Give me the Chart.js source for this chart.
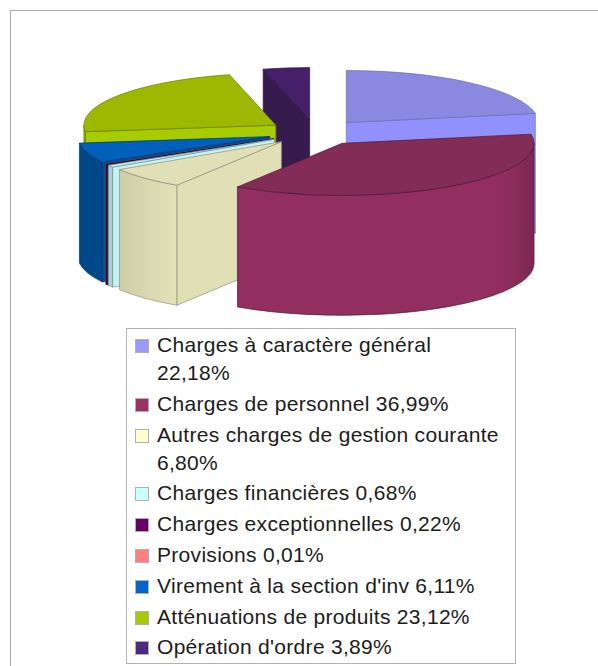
<!DOCTYPE html>
<html>
<head>
<meta charset="utf-8">
<title>Charges</title>
<script src="https://cdn.jsdelivr.net/npm/chart.js@4"></script>
<style>
    html, body { margin: 0; padding: 0; background: #fff; overflow: hidden; }
    #frame { position: absolute; left: 10px; top: 10px; width: 700px; height: 800px; border-left: 1px solid #a8a8a8; border-top: 1px solid #a8a8a8; }
    #pie { position: absolute; left: 0; top: 0; }
    #legend { position: absolute; left: 126px; top: 328px; width: 388px; height: 334px; border: 1px solid #b3b3b3; background: #fff;
        box-sizing: content-box; font-family: "Liberation Sans", sans-serif; font-size: 21px; color: #1c1c1c; padding-top: 0; }
    #legend .row { position: relative; padding-left: 30px; line-height: 28px; margin-bottom: 2.8px; white-space: nowrap; letter-spacing: 0.3px; }
    #legend .row:first-child { margin-top: 2px; }
    #legend .box { position: absolute; left: 8px; top: 8px; width: 12px; height: 12px; border: 1px solid #b0b0b0; }
</style>
</head>
<body>
<div id="frame"></div>
<canvas id="pie" width="598" height="666"></canvas>
<div id="legend"></div>
<script>
const categories = ["Charges à caractère général", "Charges de personnel", "Autres charges de gestion courante",
    "Charges financières", "Charges exceptionnelles", "Provisions", "Virement à la section d'inv",
    "Atténuations de produits", "Opération d'ordre"];
const values = [22.18, 36.99, 6.80, 0.68, 0.22, 0.01, 6.11, 23.12, 3.89];
const twoLineRows = [0, 2];

const legendColors = ["#9999ff", "#993366", "#ffffcc", "#ccffff", "#660066", "#ff8080", "#0066cc", "#a9c800", "#4b2a7f"];
const topColors = ["#8a88e0", "#832c57", "#e0dfb5", "#c4f2f2", "#4a0a4a", "#e07070", "#0060bb", "#9cb800", "#451f68"];
const faceColors = ["#9090fe", "#8f2d5e", "#e0dfb5", "#c4f2f2", "#3a083a", "#d06060", "#004f9c", "#a8cc00", "#361c4e"];
const wallColors = ["#9090fe", "#922e60", "#e2e1b7", "#b8e6e6", "#2e0a3a", "#d06060", "#005099", "#a8cc00", "#361c4e"];
const edgeColors = ["#6f6fa8", "#4c1c34", "#8f8f80", "#7a9a9a", "#220522", "#904040", "#003a70", "#6a7d00", "#2a1540"];

const pieRadius = 192;
const squash = 52 / 192;
const depth = 120;
const explode = 48;

// wall brightness across the pie, left edge to right edge
const wallShade = [[-1, 0.88], [-0.85, 0.91], [-0.72, 0.95], [-0.55, 1], [0.8, 1], [0.9, 0.95], [1, 0.85]];

const shadeColor = (hex, f) => {
    const n = parseInt(hex.slice(1), 16);
    const r = Math.round((n >> 16 & 255) * f);
    const g = Math.round((n >> 8 & 255) * f);
    const b = Math.round((n & 255) * f);
    return `rgb(${r},${g},${b})`;
};

const drawSlice = (ctx, arc, i) => {
    const { x, y, startAngle, endAngle, outerRadius } = arc.getProps(["x", "y", "startAngle", "endAngle", "outerRadius"]);
    const mid = (startAngle + endAngle) / 2;
    const cx = x + Math.cos(mid) * explode;
    const cy = y + Math.sin(mid) * explode * squash;
    const ry = outerRadius * squash;

    // radial cut faces, only the one turned to the viewer
    const faces = [];
    if (Math.cos(startAngle) < 0) faces.push(startAngle);
    if (Math.cos(endAngle) > 0) faces.push(endAngle);
    faces.forEach(a => {
        const ex = cx + Math.cos(a) * outerRadius;
        const ey = cy + Math.sin(a) * ry;
        ctx.beginPath();
        ctx.moveTo(cx, cy);
        ctx.lineTo(ex, ey);
        ctx.lineTo(ex, ey + depth);
        ctx.lineTo(cx, cy + depth);
        ctx.closePath();
        ctx.fillStyle = faceColors[i];
        ctx.fill();
        ctx.strokeStyle = edgeColors[i];
        ctx.lineWidth = 0.7;
        ctx.stroke();
    });

    // curved wall, only the part facing the viewer
    const s = Math.max(startAngle, 0);
    const e = Math.min(endAngle, Math.PI);
    if (e > s) {
        const grad = ctx.createLinearGradient(cx - outerRadius, 0, cx + outerRadius, 0);
        wallShade.forEach(([t, f]) => grad.addColorStop((t + 1) / 2, shadeColor(wallColors[i], f)));
        ctx.beginPath();
        ctx.ellipse(cx, cy, outerRadius, ry, 0, s, e);
        ctx.ellipse(cx, cy + depth, outerRadius, ry, 0, e, s, true);
        ctx.closePath();
        ctx.fillStyle = grad;
        ctx.fill();
        ctx.strokeStyle = edgeColors[i];
        ctx.lineWidth = 0.7;
        ctx.stroke();
    }

    // top surface, the library's own arc under a squashed transform
    ctx.save();
    ctx.translate(cx, cy);
    ctx.scale(1, squash);
    ctx.translate(-x, -y);
    arc.draw(ctx);
    ctx.restore();

    ctx.beginPath();
    ctx.moveTo(cx, cy);
    ctx.ellipse(cx, cy, outerRadius, ry, 0, startAngle, endAngle);
    ctx.closePath();
    ctx.strokeStyle = edgeColors[i];
    ctx.lineWidth = 0.7;
    ctx.stroke();
};

const pie3d = {
    id: "pie3d",
    beforeDatasetsDraw(chart) {
        const arcs = chart.getDatasetMeta(0).data;
        const order = arcs.map((arc, i) => i).sort((a, b) => {
            const midA = (arcs[a].startAngle + arcs[a].endAngle) / 2;
            const midB = (arcs[b].startAngle + arcs[b].endAngle) / 2;
            return Math.sin(midA) - Math.sin(midB);
        });
        order.forEach(i => drawSlice(chart.ctx, arcs[i], i));
        return false;
    }
};

new Chart(document.getElementById("pie"), {
    type: "pie",
    data: {
        labels: categories,
        datasets: [{
            data: values,
            backgroundColor: topColors,
            borderWidth: 0,
            radius: pieRadius
        }]
    },
    options: {
        responsive: false,
        animation: false,
        layout: { padding: { left: 33, bottom: 401 } },
        plugins: { legend: { display: false }, tooltip: { enabled: false } }
    },
    plugins: [pie3d]
});

// legend is plain html next to the canvas
const legend = document.getElementById("legend");
categories.forEach((name, i) => {
    const row = document.createElement("div");
    row.className = "row";
    const box = document.createElement("span");
    box.className = "box";
    box.style.background = legendColors[i];
    row.appendChild(box);
    const pct = values[i].toFixed(2).replace(".", ",") + "%";
    row.appendChild(document.createTextNode(name + (twoLineRows.includes(i) ? "" : " " + pct)));
    if (twoLineRows.includes(i)) {
        row.appendChild(document.createElement("br"));
        row.appendChild(document.createTextNode(pct));
    }
    legend.appendChild(row);
});
</script>
</body>
</html>
